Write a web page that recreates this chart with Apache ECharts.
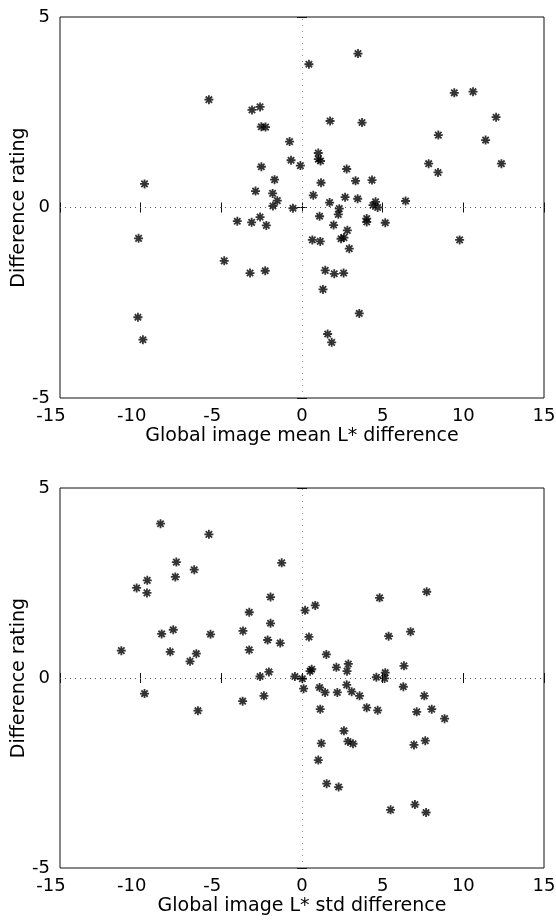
<!DOCTYPE html>
<html>
<head>
<meta charset="utf-8">
<script src="https://cdn.jsdelivr.net/npm/echarts@6/dist/echarts.min.js"></script>
<style>html,body{margin:0;padding:0;background:#fff;}#c{width:556px;height:921px;}</style>
</head>
<body>
<div id="c"></div>
<script>
// Top panel: Global image mean L* difference vs Difference rating
const meanX = [-5.77,-3.10,-2.60,-2.52,-2.26,-0.77,-0.68,-0.10,-2.52,-1.70,-2.88,-1.82,-1.53,-1.80,-0.56,-9.76,
  0.43,3.47,1.74,3.72,9.44,10.60,12.03,11.38,12.36,8.45,7.85,8.43,1.01,1.01,1.15,2.77,1.18,3.32,4.34,0.70,2.67,3.45,1.71,2.31,4.56,4.40,4.69,6.42,
  -10.13,-4.01,-3.12,-2.60,-2.21,-4.82,-3.22,-2.28,-10.17,-9.86,
  1.09,2.25,1.96,4.01,4.01,5.16,2.81,2.42,2.60,2.93,0.64,1.13,9.77,1.44,2.00,2.58,1.30,3.55,1.59,1.84];
const meanY = [2.83,2.56,2.64,2.12,2.11,1.73,1.24,1.10,1.07,0.73,0.43,0.37,0.18,0.04,-0.02,0.62,
  3.76,4.04,2.27,2.23,3.01,3.04,2.37,1.77,1.15,1.90,1.15,0.92,1.43,1.27,1.22,1.01,0.65,0.70,0.72,0.32,0.27,0.23,0.13,-0.03,0.15,0.06,0.00,0.17,
  -0.81,-0.36,-0.39,-0.25,-0.47,-1.40,-1.72,-1.66,-2.88,-3.47,
  -0.23,-0.18,-0.46,-0.29,-0.38,-0.40,-0.60,-0.82,-0.79,-1.08,-0.85,-0.89,-0.85,-1.65,-1.74,-1.72,-2.15,-2.78,-3.32,-3.54];
// Bottom panel: Global image L* std difference vs Difference rating
const stdX = [-8.77,-5.77,-7.79,-6.68,-9.59,-10.25,-9.61,-7.85,-1.26,-1.95,-3.27,-1.95,-3.66,-2.13,-1.35,-3.27,-8.70,-7.98,-5.67,-11.2,-8.17,-6.55,-6.94,-2.05,-2.60,-0.44,
  0.02,0.19,0.82,0.43,4.81,7.73,5.37,6.73,1.51,2.13,2.87,2.79,6.32,0.50,0.60,4.61,5.16,5.12,
  -9.76,-6.45,-3.68,-2.36,
  0.10,1.09,1.43,2.19,2.77,3.08,3.57,6.28,7.58,1.13,4.01,4.69,7.11,8.04,8.84,2.60,1.20,2.85,3.16,6.94,7.64,1.01,1.53,2.27,5.49,7.00,7.69];
const stdY = [4.06,3.78,3.05,2.85,2.57,2.37,2.24,2.66,3.03,2.13,1.73,1.44,1.24,1.00,0.92,0.74,1.16,1.27,1.15,0.72,0.69,0.64,0.44,0.16,0.04,0.04,
  -0.02,1.78,1.91,1.08,2.11,2.27,1.10,1.22,0.62,0.28,0.37,0.18,0.32,0.18,0.23,0.02,0.14,-0.01,
  -0.41,-0.86,-0.61,-0.47,
  -0.28,-0.25,-0.38,-0.38,-0.18,-0.36,-0.47,-0.23,-0.47,-0.82,-0.78,-0.85,-0.89,-0.82,-1.07,-1.39,-1.72,-1.67,-1.73,-1.76,-1.65,-2.16,-2.78,-2.87,-3.47,-3.33,-3.54];
const xTicks = [-15,-10,-5,0,5,10,15];
const yTicks = [-5,0,5];
const xNames = ['Global image mean L* difference','Global image L* std difference'];
const yName = 'Difference rating';

const star = 'path://M-0.8,-4L0.8,-4L0.8,4L-0.8,4Z M-4,-0.8L4,-0.8L4,0.8L-4,0.8Z M-2.26,-3.39L3.39,2.26L2.26,3.39L-3.39,-2.26Z M-3.39,2.26L2.26,-3.39L3.39,-2.26L-2.26,3.39Z';
const font = '"DejaVu Sans", Verdana, sans-serif';

function zip(a,b){return a.map((v,i)=>[v,b[i]]);}

const grids = [
  {left:60, right:12, top:17, height:381, show:true, borderColor:'#111', borderWidth:1, containLabel:false, outerBoundsMode:'none'},
  {left:60, right:12, top:488, height:380, show:true, borderColor:'#111', borderWidth:1, containLabel:false, outerBoundsMode:'none'}
];
const labelRich = {
  neg:{color:'#000', fontSize:18, fontFamily:font, padding:[0,18,0,0]},
  pos:{color:'#000', fontSize:18, fontFamily:font}
};
const xAxes = [], yAxes = [];
[0,1].forEach(g=>{
  xAxes.push({type:'value', gridIndex:g, min:xTicks[0], max:xTicks[xTicks.length-1], interval:5, position:'bottom',
    name:xNames[g], nameLocation:'middle', nameGap:29, nameMoveOverlap:false, nameTextStyle:{color:'#000', fontSize:19, fontFamily:font},
    axisLine:{show:false}, axisTick:{show:true, inside:true, length:5, lineStyle:{color:'#111'}},
    axisLabel:{color:'#000', fontSize:18, fontFamily:font, margin:9, rich:labelRich,
      formatter:v=> v<0 ? '{neg|'+v+'}' : '{pos|'+v+'}'}, splitLine:{show:false}});
  xAxes.push({type:'value', gridIndex:g, min:xTicks[0], max:xTicks[xTicks.length-1], interval:5, position:'top',
    axisLine:{show:false}, axisTick:{show:true, inside:true, length:5, lineStyle:{color:'#111'}},
    axisLabel:{show:false}, splitLine:{show:false}});
  yAxes.push({type:'value', gridIndex:g, min:yTicks[0], max:yTicks[yTicks.length-1], interval:5, position:'left',
    name:yName, nameLocation:'middle', nameGap:31, nameMoveOverlap:false, nameTextStyle:{color:'#000', fontSize:19, fontFamily:font},
    axisLine:{show:false}, axisTick:{show:true, inside:true, length:5, lineStyle:{color:'#111'}},
    axisLabel:{color:'#000', fontSize:18, fontFamily:font, margin:10}, splitLine:{show:false}});
  yAxes.push({type:'value', gridIndex:g, min:yTicks[0], max:yTicks[yTicks.length-1], interval:5, position:'right',
    axisLine:{show:false}, axisTick:{show:true, inside:true, length:5, lineStyle:{color:'#111'}},
    axisLabel:{show:false}, splitLine:{show:false}});
});

function ser(g, data){
  return {type:'scatter', xAxisIndex:g*2, yAxisIndex:g*2, data:data, symbol:star, symbolSize:9,
    itemStyle:{color:'#000'}, silent:true, z:3,
    markLine:{silent:true, symbol:'none', label:{show:false}, animation:false, z:1,
      data:[{xAxis:0, lineStyle:{color:'#999', type:[1,5], width:1}},
            {yAxis:0, lineStyle:{color:'#555', type:[1,4], width:1}}]}};
}

const chart = echarts.init(document.getElementById('c'), null, {renderer:'canvas'});
chart.setOption({
  animation:false,
  backgroundColor:'#fff',
  grid:grids,
  xAxis:xAxes,
  yAxis:yAxes,
  series:[ser(0, zip(meanX, meanY)), ser(1, zip(stdX, stdY))]
});
</script>
</body>
</html>
